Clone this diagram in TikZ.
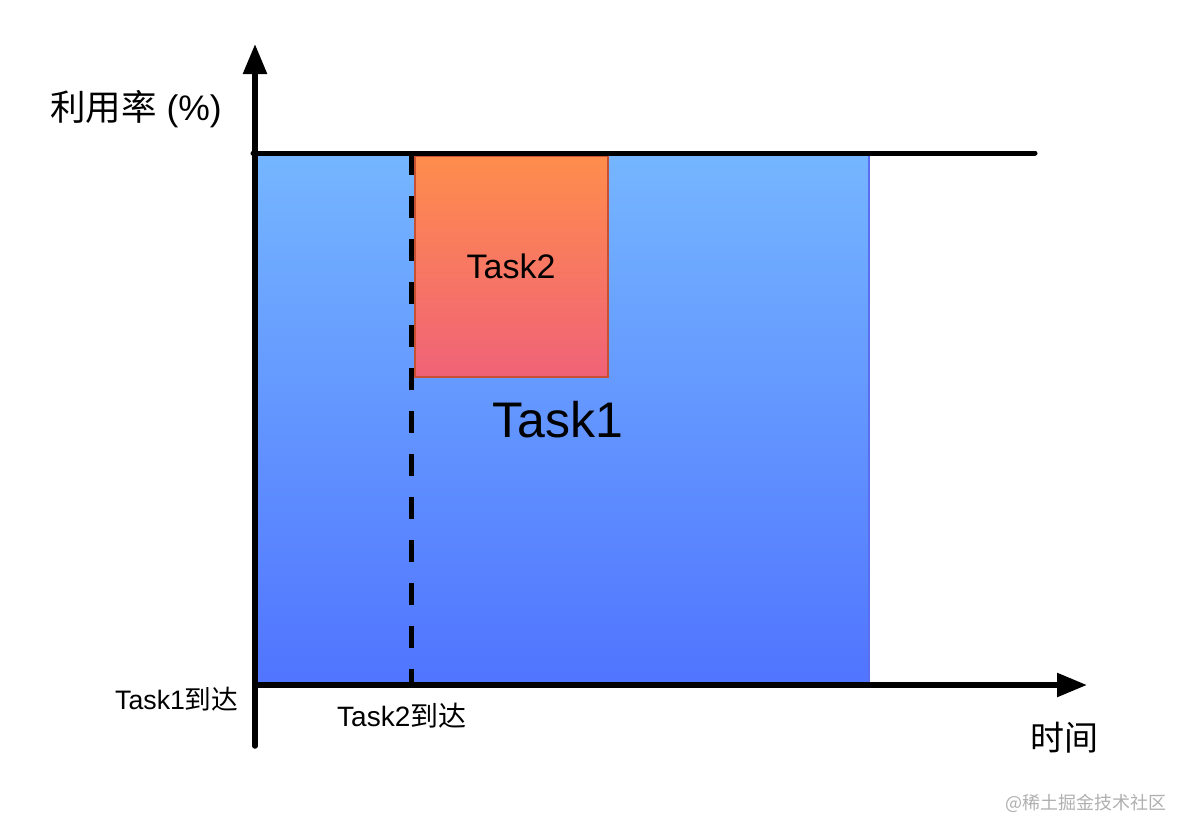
\documentclass[tikz,border=0pt]{standalone}
\usepackage{fontspec}
\setmainfont{Liberation Sans}
\newfontfamily\cjk{Noto Sans CJK SC}
\usetikzlibrary{arrows.meta}
\definecolor{bluetop}{RGB}{117,182,255}
\definecolor{bluebot}{RGB}{80,116,255}
\definecolor{blueedge}{RGB}{90,110,240}
\definecolor{orgtop}{RGB}{255,141,76}
\definecolor{orgbot}{RGB}{240,98,120}
\definecolor{orgedge}{RGB}{200,80,50}
\definecolor{wmark}{RGB}{175,175,175}
\tikzset{
  axis/.style={line width=5.5pt, -{Triangle[length=30pt,width=23pt]}},
  lbl/.style={inner sep=0pt, text=black},
}
\begin{document}
\begin{tikzpicture}[x=1pt,y=-1pt]
\useasboundingbox (0,0) rectangle (1190,838);
% Task1 block
\shade[top color=bluetop, bottom color=bluebot] (255,153) rectangle (869,685);
\draw[blueedge, line width=1.2pt] (869,153) -- (869,685);
% Task2 block
\shade[top color=orgtop, bottom color=orgbot] (415,156) rectangle (608,377);
\draw[orgedge, line width=1.2pt] (415,156) rectangle (608,377);
% coordinates
\coordinate (o) at (255,685);
\coordinate (ybot) at (255,746);
\coordinate (ytop) at (255,44);
\coordinate (xleft) at (252,685);
\coordinate (xtip) at (1087,685);
\coordinate (capL) at (253,153);
\coordinate (capR) at (1035,153);
\coordinate (dtop) at (411,153);
\coordinate (dbot) at (411,685);
% dashed arrival line
\draw[line width=5pt, dash pattern=on 22pt off 21pt] (dtop) -- (dbot);
% capacity line
\draw[line width=5pt, line cap=round] (capL) -- (capR);
% axes
\draw[axis, line cap=round] (ybot) -- (ytop);
\draw[axis] (xleft) -- (xtip);
% labels
\node[lbl, anchor=base, font=\fontsize{34}{40}\selectfont] (t2) at (511,278) {Task2};
\node[lbl, anchor=base, font=\fontsize{50}{56}\selectfont] (t1) at (558,437) {Task1};
\node[lbl, anchor=base west, font=\fontsize{35.5}{40}\selectfont] (ylab) at (50,120) {{\cjk 利用率} (\%)};
\node[lbl, anchor=base west, font=\fontsize{26.7}{30}\selectfont] (a1) at (115,709) {Task1{\cjk 到达}};
\node[lbl, anchor=base west, font=\fontsize{28}{32}\selectfont] (a2) at (337,726) {Task2{\cjk 到达}};
\node[lbl, anchor=center, font=\cjk\fontsize{34}{40}\selectfont] (xlab) at (1064,738) {时间};
\node[lbl, anchor=center, text=wmark, font=\cjk\fontsize{18}{22}\selectfont] (wm) at (1086,803) {@稀土掘金技术社区};
\end{tikzpicture}
\end{document}
